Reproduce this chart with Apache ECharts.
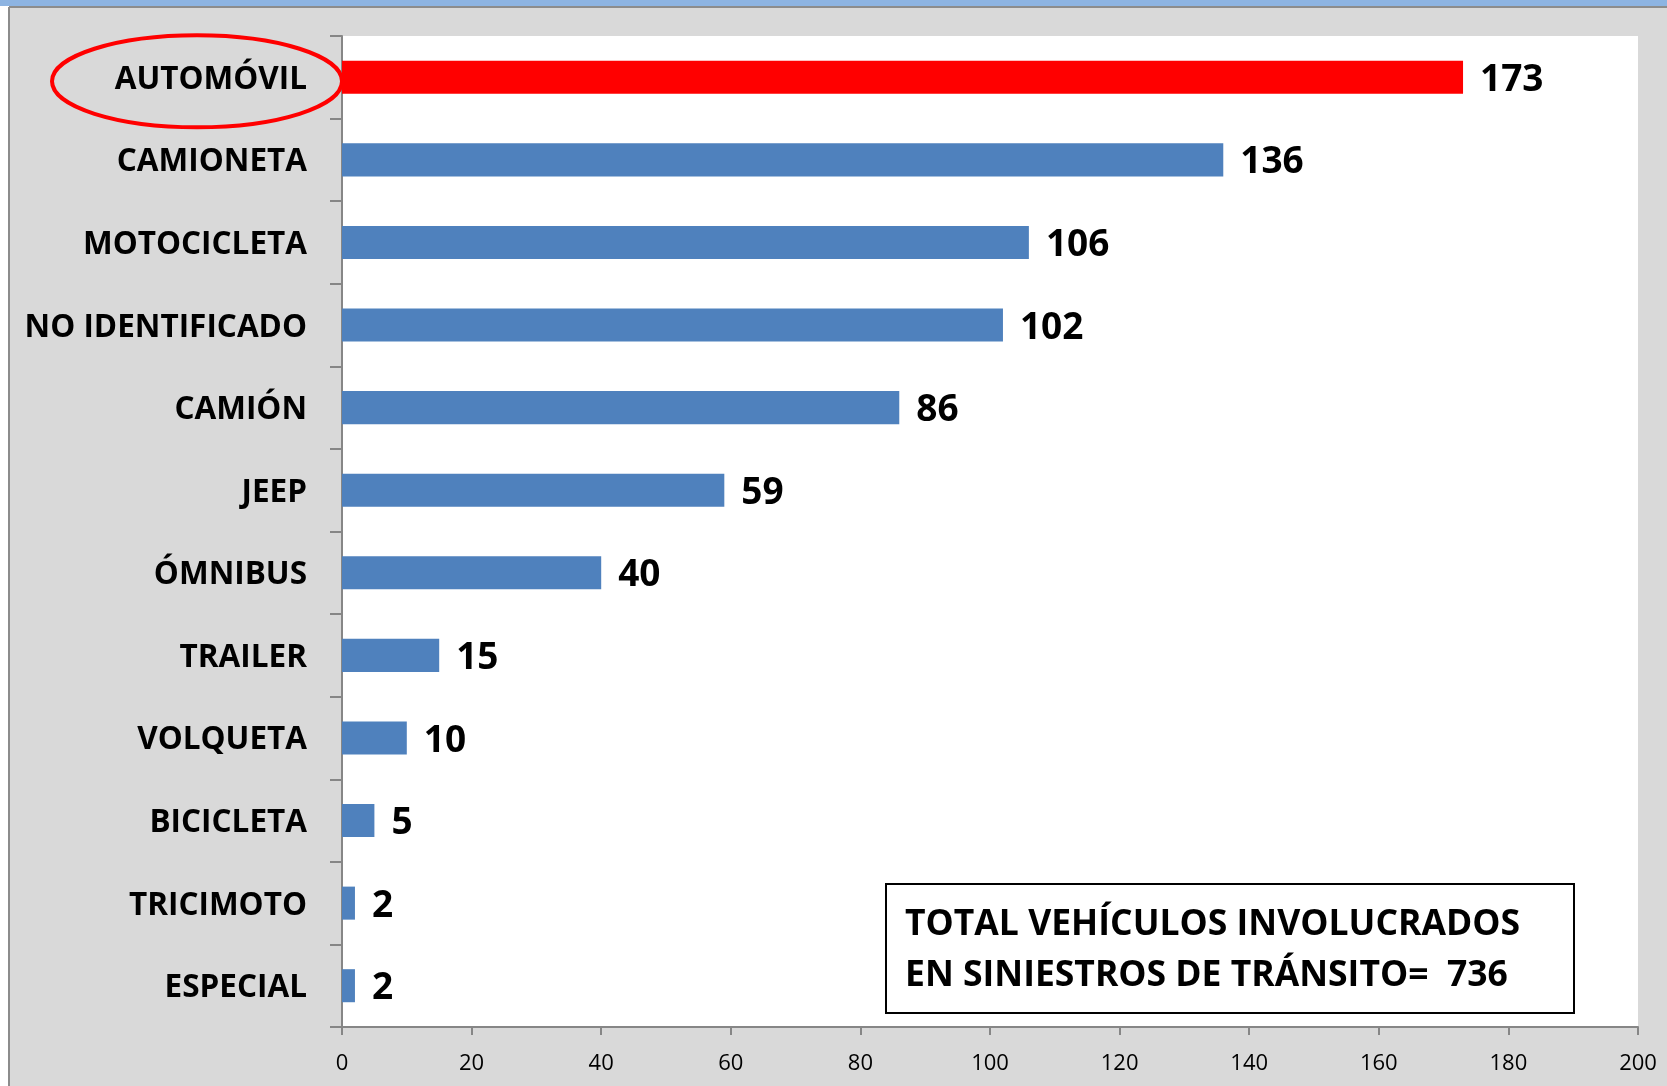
<!DOCTYPE html>
<html>
<head>
<meta charset="utf-8">
<title>Vehículos involucrados en siniestros de tránsito</title>
<script src="https://cdn.jsdelivr.net/npm/echarts@6/dist/echarts.min.js"></script>
<style>
  html, body { margin: 0; padding: 0; background: #fff; }
  #chart { width: 1667px; height: 1086px; }
</style>
</head>
<body>
<div id="chart"></div>
<script>
// categorias, de arriba hacia abajo
const categories = ['AUTOMÓVIL', 'CAMIONETA', 'MOTOCICLETA', 'NO IDENTIFICADO', 'CAMIÓN', 'JEEP',
  'ÓMNIBUS', 'TRAILER', 'VOLQUETA', 'BICICLETA', 'TRICIMOTO', 'ESPECIAL'];
const values = [173, 136, 106, 102, 86, 59, 40, 15, 10, 5, 2, 2];
const highlighted = 'AUTOMÓVIL';
const xTicks = [0, 20, 40, 60, 80, 100, 120, 140, 160, 180, 200];
const totalLines = ['TOTAL VEHÍCULOS INVOLUCRADOS', 'EN SINIESTROS DE TRÁNSITO=  736'];

const FONT = '"Open Sans", "DejaVu Sans", sans-serif';

const chart = echarts.init(document.getElementById('chart'));

// fondo del marco: gris, franja azul arriba, borde blanco a la izquierda
const frame = [
  { type: 'rect', shape: { x: 0, y: 0, width: 1667, height: 1086 }, style: { fill: '#d9d9d9' }, z: -10 },
  { type: 'rect', shape: { x: 0, y: 0, width: 9, height: 1086 }, style: { fill: '#ffffff' }, z: -9 },
  { type: 'rect', shape: { x: 0, y: 0, width: 1667, height: 6 }, style: { fill: '#8db4e2' }, z: -8 },
  { type: 'line', shape: { x1: 9, y1: 7, x2: 1667, y2: 7 }, style: { stroke: '#8c8c8c', lineWidth: 2 }, z: -7 },
  { type: 'line', shape: { x1: 9, y1: 7, x2: 9, y2: 1086 }, style: { stroke: '#8c8c8c', lineWidth: 2 }, z: -7 }
];

const option = {
  animation: false,
  backgroundColor: 'transparent',
  grid: {
    left: 342, right: 29, top: 36, bottom: 59,
    show: true, backgroundColor: '#ffffff', borderWidth: 0
  },
  xAxis: {
    type: 'value',
    min: 0, max: 200, interval: 20,
    axisLine: { show: true, lineStyle: { color: '#868686', width: 2 } },
    axisTick: { show: true, length: 8, lineStyle: { color: '#868686', width: 2 } },
    splitLine: { show: false },
    axisLabel: {
      margin: 26, color: '#000', fontFamily: FONT, fontSize: 22,
      formatter: v => (xTicks.indexOf(v) >= 0 ? String(v) : '')
    }
  },
  yAxis: {
    type: 'category',
    data: categories,
    inverse: true,
    axisLine: { show: true, lineStyle: { color: '#868686', width: 2 } },
    axisTick: { show: true, length: 12, lineStyle: { color: '#868686', width: 2 } },
    axisLabel: {
      margin: 35, color: '#000', fontFamily: FONT, fontSize: 31.5, fontWeight: 'bold',
      formatter: v => '{c|' + v + '}',
      rich: { c: { fontFamily: FONT, fontSize: 31.5, fontWeight: 'bold', color: '#000', padding: [5, 0, 0, 0] } }
    }
  },
  series: [{
    type: 'bar',
    barWidth: '40%',
    data: values.map((v, i) => ({
      value: v,
      itemStyle: { color: categories[i] === highlighted ? '#ff0000' : '#4f81bd' }
    })),
    label: {
      show: true, position: 'right', distance: 17, offset: [0, 3],
      color: '#000', fontFamily: FONT, fontSize: 37, fontWeight: 'bold'
    }
  }],
  graphic: frame
};
chart.setOption(option);

// ovalo rojo alrededor de la etiqueta destacada y recuadro del total
const yHi = chart.convertToPixel({ yAxisIndex: 0 }, highlighted);
const x0 = chart.convertToPixel({ xAxisIndex: 0 }, 0);
chart.setOption({
  graphic: frame.concat([
    {
      type: 'ellipse',
      shape: { cx: x0 - 145, cy: yHi + 4, rx: 145, ry: 46 },
      style: { fill: 'none', stroke: '#ff0000', lineWidth: 4 },
      z: 10
    },
    {
      type: 'rect',
      shape: { x: 886, y: 884, width: 688, height: 129 },
      style: { fill: '#ffffff', stroke: '#000000', lineWidth: 2 },
      z: 10
    },
    {
      type: 'text',
      x: 905, y: 950,
      style: {
        text: totalLines.join('\n'),
        fill: '#000', fontFamily: FONT, fontSize: 35.5, fontWeight: 'bold',
        lineHeight: 51, verticalAlign: 'middle', align: 'left'
      },
      z: 11
    }
  ])
});
</script>
</body>
</html>
